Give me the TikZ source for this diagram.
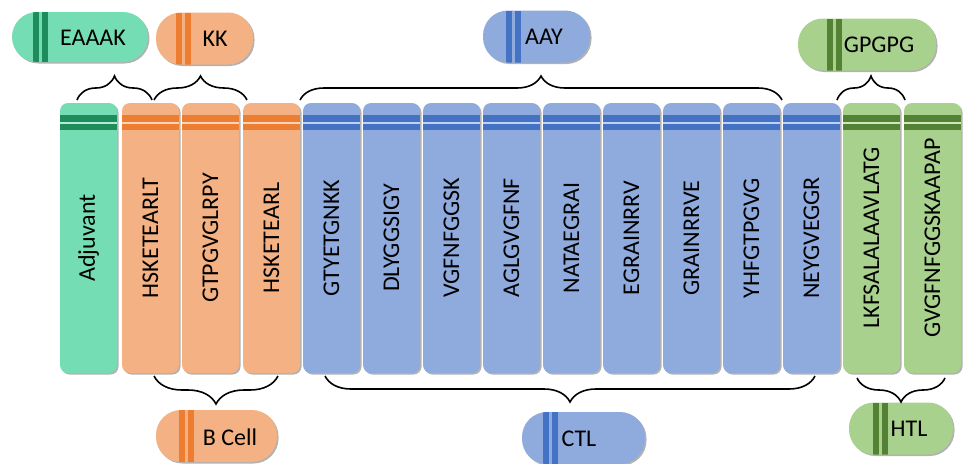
\documentclass[tikz,border=0pt]{standalone}
\usepackage{fontspec}
\setmainfont{Carlito}
\usetikzlibrary{decorations.pathreplacing,shadows}

\definecolor{adjlight}{RGB}{116,221,180}
\definecolor{adjdark}{RGB}{31,140,92}
\definecolor{bcelllight}{RGB}{244,177,131}
\definecolor{bcelldark}{RGB}{237,125,49}
\definecolor{ctllight}{RGB}{143,170,220}
\definecolor{ctldark}{RGB}{68,114,196}
\definecolor{htllight}{RGB}{169,209,142}
\definecolor{htldark}{RGB}{84,130,53}

\newcommand{\uplabel}[1]{\rotatebox{90}{#1}}

\tikzset{
    softshadow/.style={drop shadow={shadow xshift=1.5pt, shadow yshift=-1.5pt, opacity=.3, fill=black}},
    bar/.style 2 args={fill=#1, rounded corners=8pt, minimum width=57pt, minimum height=270pt,
        inner sep=0pt, softshadow,
        font=\fontsize{24}{28}\selectfont,
        path picture={
            \fill[#2, sharp corners] ([yshift=-12pt]path picture bounding box.north west) rectangle ([yshift=-27pt]path picture bounding box.north east);
            \fill[#1!55!white, sharp corners] ([yshift=-18.5pt]path picture bounding box.north west) rectangle ([yshift=-21pt]path picture bounding box.north east);
        }},
    pill/.style n args={3}{fill=#1, rounded corners=25pt, minimum height=52pt, inner sep=0pt, softshadow,
        path picture={
            \fill[#2, sharp corners] ([xshift=#3]path picture bounding box.south west) rectangle ([xshift=#3+5.5pt]path picture bounding box.north west);
            \fill[#2, sharp corners] ([xshift=#3+9pt]path picture bounding box.south west) rectangle ([xshift=#3+14.5pt]path picture bounding box.north west);
        }},
    pilltext/.style={inner sep=0pt, font=\fontsize{24}{28}\selectfont},
    brace/.style={decorate, decoration={brace, amplitude=#1}, line width=1.6pt},
}

\begin{document}
\begin{tikzpicture}[x=1pt, y=-1pt]
    \useasboundingbox (0,0) rectangle (965,463);

    % epitope bars
    \node[bar={adjlight}{adjdark}] (adj) at (88.5,238) {\uplabel{Adjuvant}};
    \node[bar={bcelllight}{bcelldark}] (b1) at (150.5,238) {\uplabel{HSKETEARLT}};
    \node[bar={bcelllight}{bcelldark}] (b2) at (210.5,238) {\uplabel{GTPGVGLRPY}};
    \node[bar={bcelllight}{bcelldark}] (b3) at (271.5,238) {\uplabel{HSKETEARL}};
    \node[bar={ctllight}{ctldark}] (c1) at (331.5,238) {\uplabel{GTYETGNKK}};
    \node[bar={ctllight}{ctldark}] (c2) at (391.5,238) {\uplabel{DLYGGSIGY}};
    \node[bar={ctllight}{ctldark}] (c3) at (451.5,238) {\uplabel{VGFNFGGSK}};
    \node[bar={ctllight}{ctldark}] (c4) at (511.5,238) {\uplabel{AGLGVGFNF}};
    \node[bar={ctllight}{ctldark}] (c5) at (571.5,238) {\uplabel{NATAEGRAI}};
    \node[bar={ctllight}{ctldark}] (c6) at (631.5,238) {\uplabel{EGRAINRRV}};
    \node[bar={ctllight}{ctldark}] (c7) at (691.5,238) {\uplabel{GRAINRRVE}};
    \node[bar={ctllight}{ctldark}] (c8) at (751.5,238) {\uplabel{YHFGTPGVG}};
    \node[bar={ctllight}{ctldark}] (c9) at (811.5,238) {\uplabel{NEYGVEGGR}};
    \node[bar={htllight}{htldark}] (h1) at (871.5,238) {\uplabel{LKFSALALAAVLATG}};
    \node[bar={htllight}{htldark}] (h2) at (932.5,238) {\uplabel{GVGFNFGGSKAAPAP}};

    % linker and group labels
    \node[pill={adjlight}{adjdark}{21pt}, minimum width=136pt, minimum height=50pt] (eaaak) at (80,37) {};
    \node[pilltext] (eaaak-t) at (93,38) {EAAAK};
    \node[pill={bcelllight}{bcelldark}{20pt}, minimum width=97pt] (kk) at (204.5,38.5) {};
    \node[pilltext] (kk-t) at (215,39) {KK};
    \node[pill={ctllight}{ctldark}{23pt}, minimum width=107pt] (aay) at (536.5,36.5) {};
    \node[pilltext] (aay-t) at (544,37) {AAY};
    \node[pill={htllight}{htldark}{29pt}, minimum width=138pt] (gpgpg) at (867,44.5) {};
    \node[pilltext] (gpgpg-t) at (879,45) {GPGPG};
    \node[pill={bcelllight}{bcelldark}{23pt}, minimum width=121pt] (bcell) at (216.5,436) {};
    \node[pilltext] (bcell-t) at (230,437) {B Cell};
    \node[pill={ctllight}{ctldark}{21pt}, minimum width=123pt] (ctl) at (583.5,438) {};
    \node[pilltext] (ctl-t) at (579,439) {CTL};
    \node[pill={htllight}{htldark}{24pt}, minimum width=104pt] (htl) at (901,428.5) {};
    \node[pilltext] (htl-t) at (909,429) {HTL};

    % brace ends
    \coordinate (eaaak-l) at (77,100);
    \coordinate (eaaak-r) at (152,100);
    \coordinate (kk-l) at (154,100);
    \coordinate (kk-r) at (247,100);
    \coordinate (aay-l) at (300,100);
    \coordinate (aay-r) at (782,100);
    \coordinate (gpgpg-l) at (837,100);
    \coordinate (gpgpg-r) at (905,100);
    \coordinate (bcell-l) at (154,376);
    \coordinate (bcell-r) at (278,376);
    \coordinate (ctl-l) at (325,376);
    \coordinate (ctl-r) at (815,376);
    \coordinate (htl-l) at (857,378);
    \coordinate (htl-r) at (945,378);

    \draw[brace=24pt] (eaaak-l) -- (eaaak-r);
    \draw[brace=24pt] (kk-l) -- (kk-r);
    \draw[brace=24pt] (aay-l) -- (aay-r);
    \draw[brace=24pt] (gpgpg-l) -- (gpgpg-r);
    \draw[brace=28pt] (bcell-r) -- (bcell-l);
    \draw[brace=26pt] (ctl-r) -- (ctl-l);
    \draw[brace=24pt] (htl-r) -- (htl-l);
\end{tikzpicture}
\end{document}
